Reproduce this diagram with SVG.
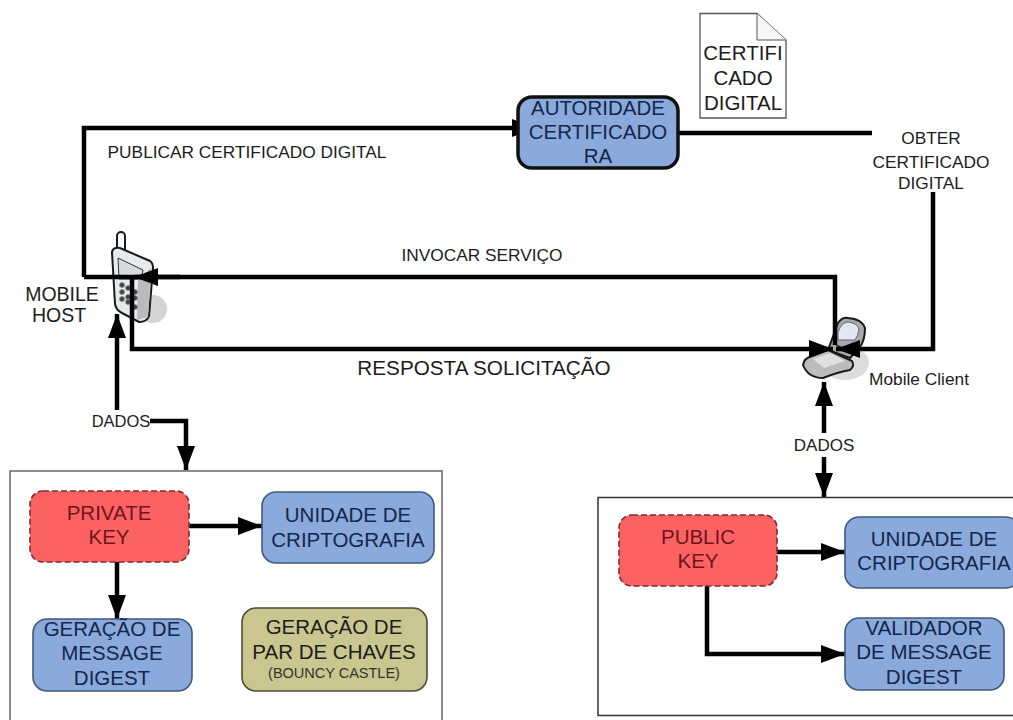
<svg xmlns="http://www.w3.org/2000/svg" width="1013" height="720" viewBox="0 0 1013 720">
<style>
text{font-family:"Liberation Sans",Arial,sans-serif;text-anchor:middle;fill:#1c1c1c}
.t17{font-size:17.300px}.t20{font-size:20.500px}
.blue{fill:#8aaadc;stroke:#3f5a7c;stroke-width:1.600}
.navy text{fill:#14264a}
.red{fill:#fd6262;stroke:#7a2c36;stroke-width:1.600;stroke-dasharray:6 3}
.redt text{fill:#6c1520}
.olive{fill:#c9c78f;stroke:#4c4c3a;stroke-width:1.600}
.frame{fill:#fff;stroke-width:1.500}
.c{fill:none;stroke:#000;stroke-width:4.500;stroke-linejoin:miter}
.ph{stroke:#1a1a1a;stroke-width:2}
</style>
<defs>
<marker id="a" markerUnits="userSpaceOnUse" markerWidth="26" markerHeight="20" refX="25" refY="10" orient="auto"><path d="M1 1L25 10L1 19Z" fill="#000"/></marker>
</defs>
<rect width="1013" height="720" fill="#fff"/>
<g id="frame-left"><path class="frame" stroke="#666" d="M10 722V471H442V722"/></g>
<g id="frame-right"><path class="frame" stroke="#333" d="M1015 497.500H598V715.500H1015"/></g>
<g id="certificado">
<path d="M700 13.500H757L786 40V118H700Z" fill="#fff" stroke="#555" stroke-width="1.300"/>
<path d="M757 13.500V40H786" fill="#f6f6f6" stroke="#555" stroke-width="1"/>
<g class="t20"><text x="743" y="60">CERTIFI</text><text x="743" y="85">CADO</text><text x="743" y="110">DIGITAL</text></g>
</g>
<g id="host-phone">
<circle cx="153" cy="309" r="14" fill="#d4d4d4"/>
<rect x="117" y="232" width="8" height="24" rx="4" fill="#fff" class="ph"/>
<path class="ph" d="M112 252Q113 247 120 248L150 261Q153 263 153 268L149 316Q147 322 139 322L122 313Q116 310 115 304Z" fill="#e8eaec"/>
<path d="M118 258L143 270L141 279L119 279Z" fill="#d8dadc" stroke="#333"/>
<path d="M138 280L151 268L148 317L137 320Z" fill="#b9bbbd"/>
<g fill="#444" stroke="#888" stroke-width="0.800"><circle cx="122" cy="285" r="2.500"/><circle cx="128" cy="288" r="2.500"/><circle cx="135" cy="292" r="2.500"/><circle cx="122" cy="292" r="2.500"/><circle cx="128" cy="297" r="2.500"/><circle cx="135" cy="298" r="2.500"/><circle cx="122" cy="299" r="2.500"/><circle cx="128" cy="302" r="2.500"/><circle cx="135" cy="307" r="2.500"/></g>
</g>
<g id="client-phone">
<ellipse cx="845" cy="363" rx="24" ry="17" fill="#dcdcdc"/>
<path class="ph" d="M828 350L838 323Q842 317 848 318Q862 319 865 328Q865 340 860 347L850 358Z" fill="#a9a9a9"/>
<path d="M838 340V332Q842 322 848 322Q857 323 859 329Q858 336 855 340Z" fill="#e4e8f4" stroke="#666"/>
<path d="M836 345L852 352" stroke="#333" stroke-width="1.500"/>
<path class="ph" d="M803 365Q804 358 812 356L828 350L852 361Q855 366 850 370Q838 372 823 378Q808 378 803 365Z" fill="#bcbcbc"/>
<path d="M813 359L830 353L845 361L824 368Z" fill="#e0e0e0"/>
</g>
<g id="connectors">
<path class="c" d="M84 277V128H536" marker-end="url(#a)"/>
<path class="c" d="M678 133H872"/>
<path class="c" d="M933 192V349H836" marker-end="url(#a)"/>
<path class="c" d="M84 277H835V345"/>
<path class="c" d="M180 277H134" marker-end="url(#a)"/>
<path class="c" d="M132 277V349H833" marker-end="url(#a)"/>
<path class="c" d="M117 410V314" marker-end="url(#a)"/>
<path class="c" d="M150 421H186V470" marker-end="url(#a)"/>
<path class="c" d="M824 433V382" marker-end="url(#a)"/>
<path class="c" d="M824 457V497" marker-end="url(#a)"/>
<path class="c" d="M189 526H262" marker-end="url(#a)"/>
<path class="c" d="M117 562V619" marker-end="url(#a)"/>
<path class="c" d="M777 552H845" marker-end="url(#a)"/>
<path class="c" d="M707 586V654H845" marker-end="url(#a)"/>
</g>
<g id="autoridade" class="navy">
<rect class="blue" style="stroke:#111;stroke-width:3.500" x="518" y="97" width="160" height="71" rx="14"/>
<g class="t20"><text x="598" y="115">AUTORIDADE</text><text x="598" y="139">CERTIFICADO</text><text x="598" y="163">RA</text></g>
</g>
<g id="lbl-publicar"><text class="t17" x="247" y="158">PUBLICAR CERTIFICADO DIGITAL</text></g>
<g id="lbl-obter" class="t17"><text x="931" y="144">OBTER</text><text x="931" y="168">CERTIFICADO</text><text x="931" y="189">DIGITAL</text></g>
<g id="lbl-invocar"><text class="t17" x="482" y="261">INVOCAR SERVIÇO</text></g>
<g id="lbl-resposta"><text font-size="20.700" x="484" y="375">RESPOSTA SOLICITAÇÃO</text></g>
<g id="lbl-host" font-size="19.500"><text x="62" y="301">MOBILE</text><text x="59" y="322">HOST</text></g>
<g id="lbl-client"><text class="t17" x="919" y="385">Mobile Client</text></g>
<g id="lbl-dados-l"><text font-size="16.500" x="121" y="427">DADOS</text></g>
<g id="lbl-dados-r"><text font-size="17" x="824" y="451">DADOS</text></g>
<g id="private-key" class="redt">
<rect class="red" x="30" y="491" width="159" height="71" rx="13"/>
<g class="t20"><text x="109" y="520">PRIVATE</text><text x="109" y="544">KEY</text></g>
</g>
<g id="unidade-l" class="navy">
<rect class="blue" x="262" y="492" width="172" height="71" rx="14"/>
<g class="t20"><text x="348" y="522">UNIDADE DE</text><text x="348" y="547">CRIPTOGRAFIA</text></g>
</g>
<g id="geracao-md" class="navy">
<rect class="blue" x="33" y="619" width="159" height="72" rx="14"/>
<g class="t20"><text x="112" y="636">GERAÇÃO DE</text><text x="112" y="660">MESSAGE</text><text x="112" y="685">DIGEST</text></g>
</g>
<g id="geracao-par">
<rect class="olive" x="242" y="608" width="185" height="83" rx="14"/>
<g class="t20"><text x="334" y="634">GERAÇÃO DE</text><text x="334" y="659">PAR DE CHAVES</text></g>
<text x="334" y="678" font-size="14.500" style="fill:#333">(BOUNCY CASTLE)</text>
</g>
<g id="public-key" class="redt">
<rect class="red" x="619" y="515" width="158" height="71" rx="13"/>
<g class="t20"><text x="698" y="544">PUBLIC</text><text x="698" y="568">KEY</text></g>
</g>
<g id="unidade-r" class="navy">
<rect class="blue" x="845" y="517" width="175" height="71" rx="14"/>
<g class="t20"><text x="934" y="546">UNIDADE DE</text><text x="934" y="570">CRIPTOGRAFIA</text></g>
</g>
<g id="validador" class="navy">
<rect class="blue" x="845" y="618" width="159" height="72" rx="14"/>
<g class="t20"><text x="924" y="635">VALIDADOR</text><text x="924" y="659">DE MESSAGE</text><text x="924" y="684">DIGEST</text></g>
</g>
</svg>
